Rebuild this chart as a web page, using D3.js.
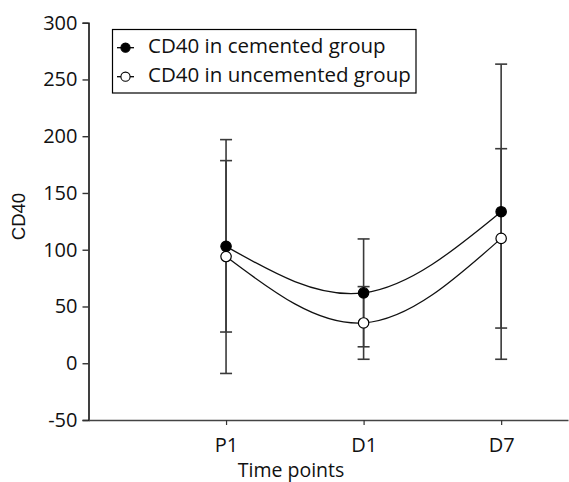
<!DOCTYPE html>
<html>
<head>
<meta charset="utf-8">
<script src="https://cdn.jsdelivr.net/npm/d3@7"></script>
<style>
  body { margin: 0; background: #fff; }
  text { font-family: "Open Sans", "Noto Sans", sans-serif; }
</style>
</head>
<body>
<svg width="569" height="482"></svg>
<script>
// time points
var timePoints = ["P1", "D1", "D7"];
// means
var cemented = [103, 62, 133.5];
var uncemented = [94, 35.5, 110];
// standard deviations
var cementedSD = [75.5, 47.5, 130];
var uncementedSD = [103, 32, 79];
var yTicks = [-50, 0, 50, 100, 150, 200, 250, 300];
var legendLabels = ["CD40 in cemented group", "CD40 in uncemented group"];

var svg = d3.select("svg");

var x = d3.scaleLinear().domain([0, 3.486]).range([88.5, 568]);
var y = d3.scaleLinear().domain([-50, 300]).range([420, 22.7]);

// y axis
var yAxis = svg.append("g")
    .attr("transform", "translate(88.5,0)")
    .call(d3.axisLeft(y).tickValues(yTicks).tickSize(6).tickPadding(5)
        .tickFormat(function(d) { return String(d); }));
yAxis.select(".domain").attr("stroke", "#111").attr("stroke-width", 1.6);
yAxis.selectAll(".tick line").attr("stroke", "#333").attr("stroke-width", 1.4);
yAxis.selectAll(".tick text")
    .attr("font-size", 20)
    .attr("fill", "#111");

// x axis
var xAxis = svg.append("g")
    .attr("transform", "translate(0,420)")
    .call(d3.axisBottom(x).tickValues([1, 2, 3])
        .tickFormat(function(d) { return timePoints[d - 1]; })
        .tickSize(5).tickPadding(13).tickSizeOuter(0));
xAxis.select(".domain").attr("stroke", "#444").attr("stroke-width", 1.6);
xAxis.selectAll(".tick line").attr("stroke", "#333").attr("stroke-width", 1.2);
xAxis.selectAll(".tick text")
    .attr("font-size", 20)
    .attr("fill", "#111");

// axis titles
svg.append("text")
    .attr("transform", "translate(25,216.5) rotate(-90)")
    .attr("text-anchor", "middle")
    .attr("font-size", 18.5)
    .style("font-family", "'Liberation Sans', Arial, sans-serif")
    .attr("fill", "#111")
    .text("CD40");

svg.append("text")
    .attr("x", 291)
    .attr("y", 476.5)
    .attr("text-anchor", "middle")
    .attr("font-size", 19.5)
    .attr("fill", "#111")
    .text("Time points");

// error bars
var series = [
    {mean: cemented, sd: cementedSD, fill: "#000"},
    {mean: uncemented, sd: uncementedSD, fill: "#fff"}
];

series.forEach(function(s) {
    var g = svg.append("g");
    s.mean.forEach(function(m, i) {
        var cx = x(i + 1);
        var hi = y(m + s.sd[i]);
        var lo = y(m - s.sd[i]);
        g.append("line").attr("x1", cx).attr("x2", cx).attr("y1", hi).attr("y2", lo)
            .attr("stroke", "#3a3a3a").attr("stroke-width", 1.6);
        [hi, lo].forEach(function(yy) {
            g.append("line").attr("x1", cx - 6).attr("x2", cx + 6).attr("y1", yy).attr("y2", yy)
                .attr("stroke", "#3a3a3a").attr("stroke-width", 1.6);
        });
    });
});

// curves
var line = d3.line()
    .x(function(d, i) { return x(i + 1); })
    .y(function(d) { return y(d); })
    .curve(d3.curveNatural);

series.forEach(function(s) {
    svg.append("path")
        .attr("d", line(s.mean))
        .attr("fill", "none")
        .attr("stroke", "#111")
        .attr("stroke-width", 1.3);
});

// points
series.forEach(function(s) {
    svg.selectAll(null)
        .data(s.mean)
        .enter()
        .append("circle")
        .attr("cx", function(d, i) { return x(i + 1); })
        .attr("cy", function(d) { return y(d); })
        .attr("r", 5.2)
        .attr("fill", s.fill)
        .attr("stroke", "#000")
        .attr("stroke-width", 1.2);
});

// legend
var legend = svg.append("g");
legend.append("rect")
    .attr("x", 112.5).attr("y", 29.5)
    .attr("width", 303.5).attr("height", 63.5)
    .attr("fill", "#fff").attr("stroke", "#000").attr("stroke-width", 1.2);

legendLabels.forEach(function(label, i) {
    var cy = 47.7 + i * 29;
    legend.append("line")
        .attr("x1", 117).attr("x2", 134).attr("y1", cy).attr("y2", cy)
        .attr("stroke", "#000").attr("stroke-width", 1.3);
    legend.append("circle")
        .attr("cx", 125.5).attr("cy", cy).attr("r", 4.6)
        .attr("fill", series[i].fill).attr("stroke", "#000").attr("stroke-width", 1.1);
    legend.append("text")
        .attr("x", 148).attr("y", cy + 5.6)
        .attr("font-size", 20.5)
        .attr("fill", "#111")
        .text(label);
});
</script>
</body>
</html>
